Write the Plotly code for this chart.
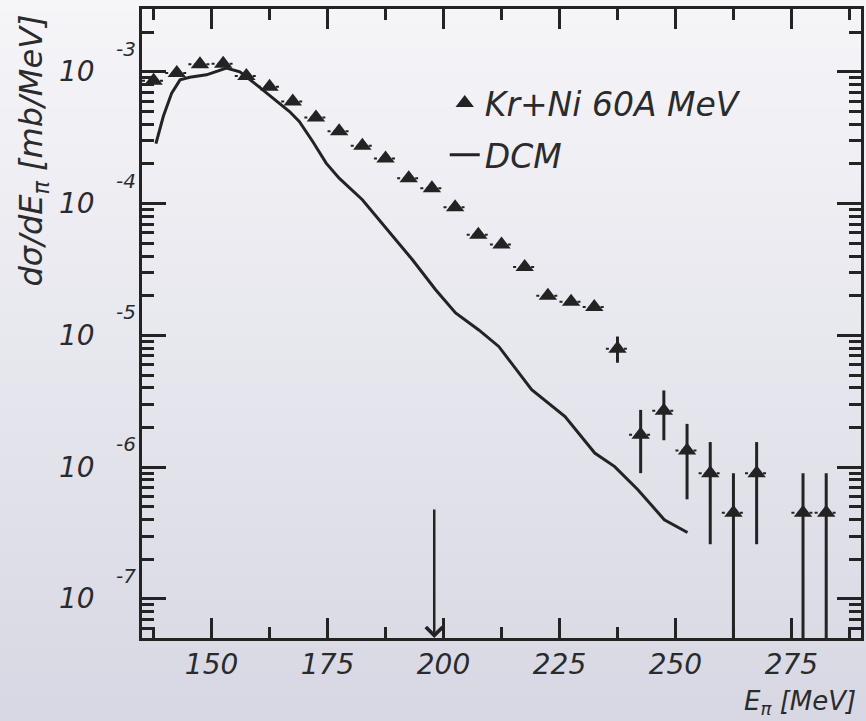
import numpy as np
import plotly.graph_objects as go

# ---------------- data ----------------
E_data = [137.5, 142.5, 147.5, 152.5, 157.5, 162.5, 167.5, 172.5, 177.5, 182.5,
          187.5, 192.5, 197.5, 202.5, 207.5, 212.5, 217.5, 222.5, 227.5, 232.5,
          237.5, 242.5, 247.5, 252.5, 257.5, 262.5, 267.5, 277.5, 282.5]
xs_data = [8.55e-4, 9.8e-4, 1.14e-3, 1.15e-3, 9.3e-4, 7.7e-4, 5.95e-4, 4.5e-4, 3.55e-4, 2.75e-4,
           2.2e-4, 1.56e-4, 1.31e-4, 9.4e-5, 5.8e-5, 4.9e-5, 3.3e-5, 2.0e-5, 1.8e-5, 1.64e-5,
           7.9e-6, 1.76e-6, 2.68e-6, 1.34e-6, 9.0e-7, 4.5e-7, 9.0e-7, 4.5e-7, 4.5e-7]
xs_hi = [None] * 20 + [9.8e-6, 2.72e-6, 3.82e-6, 2.13e-6, 1.55e-6, 9.0e-7, 1.55e-6, 9.0e-7, 9.0e-7]
xs_lo = [None] * 20 + [6.2e-6, 9.0e-7, 1.6e-6, 5.7e-7, 2.6e-7, 1e-9, 2.6e-7, 1e-9, 1e-9]
bin_half = 2.5

dcm_E = [138.0, 139.6, 141.4, 143.2, 145.3, 148.9, 153.2, 156.1, 159.7, 163.2, 166.8, 168.9,
         171.8, 174.7, 177.5, 182.5, 189.7, 193.3, 198.3, 202.6, 207.6, 211.9, 219.0, 226.2,
         232.6, 236.9, 241.9, 247.6, 252.6]
dcm_xs = [2.85e-4, 4.6e-4, 6.9e-4, 8.7e-4, 9.1e-4, 9.5e-4, 1.07e-3, 1.0e-3, 7.97e-4, 6.32e-4,
          5.0e-4, 4.2e-4, 2.96e-4, 2.03e-4, 1.56e-4, 1.07e-4, 5.31e-5, 3.75e-5, 2.22e-5, 1.48e-5,
          1.10e-5, 8.24e-6, 3.87e-6, 2.42e-6, 1.28e-6, 1.01e-6, 6.74e-7, 3.99e-7, 3.19e-7]

arrow_E = 198.0
arrow_top = 4.9e-7

x_range = [135, 290]
y_range = [5.05e-8, 3.0e-3]
x_major = [150, 175, 200, 225, 250, 275]
x_labels = ["150", "175", "200", "225", "250", "275"]
decades = [-7, -6, -5, -4, -3]

series_name = "Kr+Ni 60A MeV"
model_name = "DCM"

# ---------------- styling ----------------
INK = "#232323"
TXT = "#2b2b2b"
FONT = "DejaVu Sans"

fig = go.Figure()

# background gradient (figure-wide bands)
W, H = 866, 721
ml, mr, mt, mb = 142, 2, 9, 83
pw, ph = W - ml - mr, H - mt - mb
top_c = np.array([246, 246, 249])
bot_c = np.array([216, 216, 228])
nb = 60
y_lo_p = -mb / ph
y_hi_p = 1 + mt / ph
for i in range(nb):
    t = i / (nb - 1)
    c = top_c + (bot_c - top_c) * t
    y1 = y_hi_p - (y_hi_p - y_lo_p) * i / nb
    y0 = y_hi_p - (y_hi_p - y_lo_p) * (i + 1) / nb
    fig.add_shape(type="rect", xref="paper", yref="paper",
                  x0=-ml / pw - 0.01, x1=1 + mr / pw + 0.01, y0=y0 - 0.002, y1=y1 + 0.002,
                  fillcolor="rgb(%d,%d,%d)" % tuple(c.astype(int)), line_width=0, layer="below")

# DCM model curve
fig.add_trace(go.Scatter(x=dcm_E, y=dcm_xs, mode="lines", name=model_name,
                         line=dict(color=INK, width=3), legendgroup="b", legendrank=2))

# dotted horizontal bin-width bars
bx, by = [], []
for e, v in zip(E_data, xs_data):
    bx += [e - bin_half, e + bin_half, None]
    by += [v, v, None]
fig.add_trace(go.Scatter(x=bx, y=by, mode="lines", showlegend=False, hoverinfo="skip",
                         line=dict(color=INK, width=2, dash="dot")))

# vertical error bars
plus = [(h - v) if h is not None else 0 for h, v in zip(xs_hi, xs_data)]
minus = [(v - l) if l is not None else 0 for l, v in zip(xs_lo, xs_data)]
fig.add_trace(go.Scatter(x=E_data, y=xs_data, mode="markers", showlegend=False,
                         marker=dict(opacity=0, size=2),
                         error_y=dict(type="data", symmetric=False, array=plus, arrayminus=minus,
                                      color=INK, thickness=3, width=0)))

# data markers
fig.add_trace(go.Scatter(x=E_data, y=xs_data, mode="markers", name=series_name,
                         marker=dict(symbol="triangle-up", size=16, color=INK),
                         legendgroup="a", legendrank=1))

# arrow
fig.add_annotation(x=arrow_E, y=np.log10(y_range[0]), ax=arrow_E, ay=np.log10(arrow_top),
                   xref="x", yref="y", axref="x", ayref="y", text="", showarrow=True,
                   arrowhead=4, arrowsize=1.3, arrowwidth=2.5, arrowcolor=INK, standoff=0)

# y tick labels: "10" with exponent
for d in decades:
    fig.add_annotation(x=0, xref="paper", y=d, yref="y", text="10", showarrow=False,
                       xanchor="center", yanchor="middle", xshift=-65,
                       font=dict(family=FONT, size=28, color=TXT, style="italic"))
    fig.add_annotation(x=0, xref="paper", y=d, yref="y", text="-%d" % (-d), showarrow=False,
                       xanchor="center", yanchor="middle", xshift=-16, yshift=23,
                       font=dict(family=FONT, size=20, color=TXT, style="italic"))

# axis titles
fig.add_annotation(x=-ml / pw + 33 / pw, xref="paper", y=1 - (150 - mt) / ph, yref="paper",
                   text="dσ/dE<sub>π</sub> [mb/MeV]", textangle=-90, showarrow=False,
                   xanchor="center", yanchor="middle",
                   font=dict(family=FONT, size=32, color=TXT, style="italic"))
fig.add_annotation(x=1, xref="paper", y=1 - (702 - mt) / ph, yref="paper",
                   text="E<sub>π</sub> [MeV]", showarrow=False,
                   xanchor="right", yanchor="middle", xshift=-3,
                   font=dict(family=FONT, size=26, color=TXT, style="italic"))

# minor y ticks
y_minor = []
for k in range(-8, -2):
    for m in range(2, 10):
        v = m * 10.0 ** k
        if y_range[0] <= v <= y_range[1]:
            y_minor.append(v)

x_minor = list(np.arange(137.5, 290, 12.5))

fig.update_layout(
    width=W, height=H,
    margin=dict(l=ml, r=mr, t=mt, b=mb),
    paper_bgcolor="rgb(232,232,239)",
    plot_bgcolor="rgba(0,0,0,0)",
    showlegend=True,
    legend=dict(x=(446 - ml) / pw, y=1 - (75 - mt) / ph, xanchor="left", yanchor="top",
                bgcolor="rgba(0,0,0,0)", borderwidth=0, traceorder="grouped",
                tracegroupgap=6,
                font=dict(family=FONT, size=33, color=TXT, style="italic")),
    xaxis=dict(type="linear", range=x_range, showgrid=False, zeroline=False,
               showline=True, linecolor=INK, linewidth=2.5, mirror="ticks",
               tickmode="array", tickvals=x_major, ticktext=x_labels,
               ticks="inside", ticklen=20, tickwidth=2.5, tickcolor=INK,
               minor=dict(tickmode="array", tickvals=x_minor, ticks="inside",
                          ticklen=11, tickwidth=2.5, tickcolor=INK, showgrid=False),
               ticklabelstandoff=0,
               tickfont=dict(family=FONT, size=28, color=TXT, style="italic")),
    yaxis=dict(type="log", range=[np.log10(y_range[0]), np.log10(y_range[1])],
               showgrid=False, zeroline=False, showline=True, linecolor=INK, linewidth=2.5,
               mirror="ticks", tickmode="array", tickvals=[10.0 ** d for d in decades],
               ticks="inside", ticklen=24, tickwidth=2.5, tickcolor=INK,
               showticklabels=False,
               minor=dict(tickmode="array", tickvals=y_minor, ticks="inside", ticklen=12,
                          tickwidth=2.5, tickcolor=INK, showgrid=False)),
)

fig.write_html("out.html")
